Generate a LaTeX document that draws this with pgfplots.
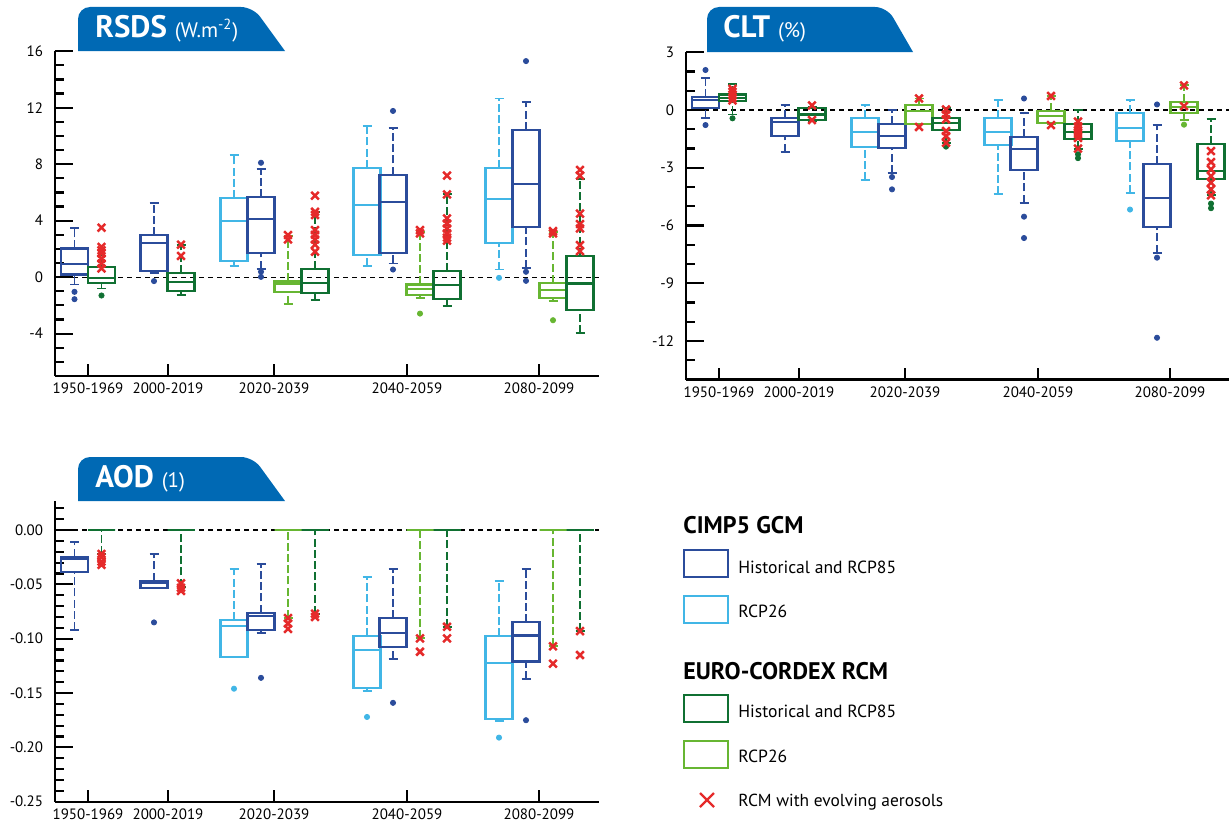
\documentclass[border=0pt]{standalone}
\usepackage{fontspec}
\setmainfont{PT Sans}
\usepackage{pgfplots}
\pgfplotsset{compat=1.18}

\definecolor{cDB}{HTML}{2B4C9B}
\definecolor{cLB}{HTML}{41B6E6}
\definecolor{cDG}{HTML}{107032}
\definecolor{cLG}{HTML}{67B632}
\definecolor{cRed}{HTML}{E52A2A}
\definecolor{cBan}{HTML}{0069B4}

% one box: colour, position, lower whisker, lower quartile, median, upper quartile, upper whisker
\newcommand{\bx}[7]{%
  \pgfmathsetmacro{\xa}{#2-13.5}\pgfmathsetmacro{\xb}{#2+13.5}%
  \pgfmathsetmacro{\ca}{#2-4.5}\pgfmathsetmacro{\cb}{#2+4.5}%
  \addplot[#1, line width=0.95pt, dash pattern=on 4pt off 1.6pt] coordinates {(#2,#3) (#2,#4)};
  \addplot[#1, line width=0.95pt, dash pattern=on 4pt off 1.6pt] coordinates {(#2,#6) (#2,#7)};
  \addplot[#1, line width=0.95pt] coordinates {(\ca,#3) (\cb,#3)};
  \addplot[#1, line width=0.95pt] coordinates {(\ca,#7) (\cb,#7)};
  \addplot[#1, line width=1.05pt] coordinates {(#2,#4) (\xb,#4) (\xb,#6) (\xa,#6) (\xa,#4) (#2,#4)};
  \addplot[#1, line width=1.05pt] coordinates {(\xa,#5) (\xb,#5)};
}
\newcommand{\ol}[2]{\addplot[only marks, mark=*, mark size=1.3pt, #1] coordinates {#2};}
\newcommand{\rx}[1]{\addplot[only marks, mark=x, mark size=2.7pt, cRed, line width=1.25pt] coordinates {#1};}
\newcommand{\zero}{\addplot[black, dash pattern=on 2.5pt off 2pt, line width=0.65pt] coordinates {(55,0) (599,0)};}

\pgfplotsset{
  panel/.style={
    scale only axis,
    xmin=55, xmax=599,
    axis x line*=bottom, axis y line*=left,
    axis line style={line width=1.1pt},
    tick style={black, line width=1.1pt},
    tick align=inside,
    major tick length=9pt, minor tick length=4.5pt,
    xtick={88,168,274,407,539},
    xticklabels={1950-1969,2000-2019,2020-2039,2040-2059,2080-2099},
    xtick style={/pgfplots/major tick length=6pt},
    tick label style={font=\fontsize{7.5}{9}\selectfont},
    /pgf/number format/assume math mode=true,
    scaled y ticks=false,
    yticklabel style={xshift=-2.5pt},
    clip=false,
  },
}

\begin{document}
\begin{tikzpicture}
\path[use as bounding box] (0,0) rectangle (614.5pt,413.5pt);

% ---------------- RSDS ----------------
\begin{axis}[panel, at={(27.5pt,225.5pt)}, anchor=south west,
    width=272pt, height=162.4pt,
    ymin=-7, ymax=16, ytick={-4,0,4,8,12,16}, minor ytick={-7,-6,...,16}]
\zero
\bx{cDB}{74.5}{-0.52}{0.19}{0.95}{2.03}{3.47}
\bx{cDG}{101.5}{-0.8}{-0.4}{-0.03}{0.71}{2.1}
\bx{cDB}{154}{0.3}{0.45}{2.43}{2.96}{5.27}
\bx{cDG}{181}{-1.28}{-0.95}{-0.33}{0.31}{2.3}
\bx{cLB}{234}{0.8}{1.13}{4.0}{5.6}{8.63}
\bx{cDB}{261}{0.6}{1.68}{4.11}{5.65}{7.68}
\bx{cLG}{288}{-1.87}{-1.04}{-0.45}{-0.28}{2.9}
\bx{cDG}{315}{-1.63}{-1.11}{-0.4}{0.59}{4.63}
\bx{cLB}{367}{0.78}{1.56}{5.1}{7.75}{10.73}
\bx{cDB}{393}{0.97}{1.68}{5.3}{7.26}{10.57}
\bx{cLG}{420}{-1.47}{-1.28}{-0.87}{-0.52}{3.2}
\bx{cDG}{447}{-2.03}{-1.56}{-0.57}{0.43}{5.86}
\bx{cLB}{499}{0.54}{2.39}{5.53}{7.75}{12.65}
\bx{cDB}{526}{0.66}{3.57}{6.57}{10.43}{12.43}
\bx{cLG}{553}{-1.7}{-1.47}{-0.92}{-0.4}{3.2}
\bx{cDG}{580}{-3.95}{-2.34}{-0.45}{1.51}{6.95}
\ol{cDB}{(74.5,-1.04) (74.5,-1.56) (154,-0.28) (261,8.1) (261,0.38) (261,0.02) (393,11.77) (393,0.54) (526,15.3) (526,0.38) (526,-0.26)}
\ol{cDG}{(101.5,-1.3)}
\ol{cLB}{(499,-0.05)}
\ol{cLG}{(420,-2.58) (553,-3.05)}
\rx{(101.5,3.5) (101.5,2.14) (101.5,1.9) (101.5,1.68) (101.5,1.32) (101.5,0.97) (101.5,0.62)
    (181,2.3) (181,1.5) (288,2.98) (288,2.67)
    (315,5.77) (315,4.63) (315,4.4) (315,3.33) (315,3.0) (315,2.67) (315,2.3) (315,1.8)
    (420,3.33) (420,3.1)
    (447,7.19) (447,5.86) (447,4.16) (447,3.8) (447,3.45) (447,3.1) (447,2.8) (447,2.58)
    (553,3.26) (553,3.1)
    (580,7.59) (580,7.19) (580,4.5) (580,3.76) (580,3.45) (580,2.27) (580,1.84)}
\end{axis}

% ---------------- CLT ----------------
\begin{axis}[panel, at={(343pt,223.75pt)}, anchor=south west,
    width=271.5pt, height=163.6pt, xmax=598,
    ymin=-14, ymax=3, ytick={-12,-9,-6,-3,0,3}, minor ytick={-14,-13,...,3}]
\zero
\bx{cDB}{74.5}{-0.4}{0.12}{0.5}{0.68}{1.68}
\bx{cDG}{101.5}{-0.23}{0.47}{0.64}{0.81}{1.33}
\bx{cDB}{154}{-2.16}{-1.35}{-0.62}{-0.4}{0.24}
\bx{cDG}{181}{-0.57}{-0.52}{-0.23}{0.1}{0.16}
\bx{cLB}{234}{-3.65}{-1.9}{-1.13}{-0.43}{0.24}
\bx{cDB}{261}{-3.26}{-1.96}{-1.35}{-0.74}{0}
\bx{cLG}{288}{-0.74}{-0.74}{-0.05}{0.24}{0.6}
\bx{cDG}{315}{-1.7}{-1.04}{-0.66}{-0.4}{0.09}
\bx{cLB}{367}{-4.38}{-1.8}{-1.13}{-0.4}{0.5}
\bx{cDB}{393}{-4.81}{-3.12}{-2.04}{-1.39}{-0.17}
\bx{cLG}{420}{-0.74}{-0.66}{-0.31}{-0.05}{0.73}
\bx{cDG}{447}{-2.04}{-1.52}{-1.13}{-0.74}{0}
\bx{cLB}{499}{-4.3}{-1.6}{-0.95}{-0.14}{0.52}
\bx{cDB}{526}{-7.41}{-6.08}{-4.59}{-2.8}{-0.78}
\bx{cLG}{553}{-0.52}{-0.14}{0.17}{0.42}{1.28}
\bx{cDG}{580}{-4.43}{-3.6}{-3.15}{-1.78}{-0.45}
\ol{cDB}{(74.5,2.08) (74.5,-0.78) (261,-3.48) (261,-4.12) (393,0.6) (393,-5.54) (393,-6.65) (526,0.29) (526,-7.67) (526,-11.83)}
\ol{cDG}{(101.5,-0.43) (315,-1.9) (447,-2.3) (447,-2.5) (580,-4.86) (580,-5.1)}
\ol{cLB}{(499,-5.17)}
\ol{cLG}{(553,-0.76)}
\rx{(101.5,1.1) (101.5,0.95) (101.5,0.8) (101.5,0.65) (101.5,0.5)
    (181,0.24) (181,-0.52) (288,0.6) (288,-0.88)
    (315,0.03) (315,-0.23) (315,-0.48) (315,-1.09) (315,-1.35) (315,-1.7)
    (420,0.73) (420,-0.78)
    (447,-0.6) (447,-0.85) (447,-1.05) (447,-1.25) (447,-1.45) (447,-2.0)
    (553,1.28) (553,0.2)
    (580,-2.13) (580,-2.7) (580,-3.08) (580,-3.43) (580,-3.77) (580,-4.12) (580,-4.43)}
\end{axis}

% ---------------- AOD ----------------
\begin{axis}[panel, at={(27.5pt,12.65pt)}, anchor=south west,
    width=272pt, height=150.5pt,
    ymin=-0.25, ymax=0.027, ytick={-0.25,-0.2,-0.15,-0.1,-0.05,0},
    minor ytick={-0.24,-0.23,-0.22,-0.21,-0.19,-0.18,-0.17,-0.16,-0.14,-0.13,-0.12,-0.11,
      -0.09,-0.08,-0.07,-0.06,-0.04,-0.03,-0.02,-0.01,0.01,0.02},
    yticklabel style={/pgf/number format/.cd, fixed, fixed zerofill, precision=2}]
\zero
\bx{cDB}{74.5}{-0.092}{-0.039}{-0.027}{-0.0245}{-0.0113}
\bx{cDG}{101.5}{-0.022}{0}{0}{0}{0}
\bx{cDB}{154}{-0.053}{-0.053}{-0.049}{-0.0466}{-0.0224}
\bx{cDG}{181}{-0.052}{0}{0}{0}{0}
\bx{cLB}{234}{-0.117}{-0.117}{-0.088}{-0.083}{-0.036}
\bx{cDB}{261}{-0.095}{-0.092}{-0.079}{-0.076}{-0.031}
\bx{cLG}{288}{-0.081}{0}{0}{0}{0}
\bx{cDG}{315}{-0.077}{0}{0}{0}{0}
\bx{cLB}{367}{-0.148}{-0.145}{-0.110}{-0.0975}{-0.043}
\bx{cDB}{393}{-0.119}{-0.108}{-0.0945}{-0.081}{-0.036}
\bx{cLG}{420}{-0.0997}{0}{0}{0}{0}
\bx{cDG}{447}{-0.089}{0}{0}{0}{0}
\bx{cLB}{499}{-0.176}{-0.174}{-0.122}{-0.0975}{-0.047}
\bx{cDB}{526}{-0.137}{-0.121}{-0.097}{-0.085}{-0.036}
\bx{cLG}{553}{-0.107}{0}{0}{0}{0}
\bx{cDG}{580}{-0.093}{0}{0}{0}{0}
\ol{cDB}{(154,-0.085) (261,-0.136) (393,-0.159) (526,-0.175)}
\ol{cLB}{(234,-0.146) (367,-0.172) (499,-0.191)}
\rx{(101.5,-0.022) (101.5,-0.025) (101.5,-0.029) (101.5,-0.032)
    (181,-0.049) (181,-0.053) (181,-0.056)
    (288,-0.081) (288,-0.086) (288,-0.091) (315,-0.077) (315,-0.08)
    (420,-0.0997) (420,-0.112) (447,-0.089) (447,-0.0997)
    (553,-0.107) (553,-0.123) (580,-0.093) (580,-0.115)}
\end{axis}

% ---------------- banners and legend (pixel coordinates, y downwards) ----------------
\begin{scope}[x=0.5pt, y=-0.5pt, yshift=413.5pt]
\fill[cBan] (78,51) [rounded corners=6pt] -- (78,7) -- (253,7) [sharp corners] -- (285,51) -- cycle;
\node[anchor=base west, inner sep=0, text=white] at (95,37)
  {\fontsize{15.5}{16}\selectfont\bfseries RSDS\ \fontsize{10.5}{11}\selectfont\mdseries(W.m\textsuperscript{-2})};
\fill[cBan] (707,52) [rounded corners=6pt] -- (707,7) -- (887,7) [sharp corners] -- (913,52) -- cycle;
\node[anchor=base west, inner sep=0, text=white] at (723,37)
  {\fontsize{15.5}{16}\selectfont\bfseries CLT\ \fontsize{10.5}{11}\selectfont\mdseries(\%)};
\fill[cBan] (78,501) [rounded corners=6pt] -- (78,457) -- (253,457) [sharp corners] -- (285,501) -- cycle;
\node[anchor=base west, inner sep=0, text=white] at (95,487)
  {\fontsize{15.5}{16}\selectfont\bfseries AOD\ \fontsize{10.5}{11}\selectfont\mdseries(1)};

\node[anchor=base west, inner sep=0, font=\fontsize{12}{13}\selectfont\bfseries] at (683,533) {CIMP5 GCM};
\draw[cDB, line width=1.1pt] (684,550) rectangle (728,577);
\node[anchor=base west, inner sep=0, font=\fontsize{8.8}{10}\selectfont] at (738,573) {Historical and RCP85};
\draw[cLB, line width=1.1pt] (684,596) rectangle (728,623);
\node[anchor=base west, inner sep=0, font=\fontsize{8.8}{10}\selectfont] at (738,617) {RCP26};
\node[anchor=base west, inner sep=0, font=\fontsize{12}{13}\selectfont\bfseries] at (683,679) {EURO-CORDEX RCM};
\draw[cDG, line width=1.1pt] (684,695) rectangle (728,722);
\node[anchor=base west, inner sep=0, font=\fontsize{8.8}{10}\selectfont] at (738,717) {Historical and RCP85};
\draw[cLG, line width=1.1pt] (684,741) rectangle (728,768);
\node[anchor=base west, inner sep=0, font=\fontsize{8.8}{10}\selectfont] at (738,762) {RCP26};
\draw[cRed, line width=1.2pt] (700,793) -- (714,807) (700,807) -- (714,793);
\node[anchor=base west, inner sep=0, font=\fontsize{8.7}{10}\selectfont] at (738,806) {RCM with evolving aerosols};
\end{scope}
\end{tikzpicture}
\end{document}
